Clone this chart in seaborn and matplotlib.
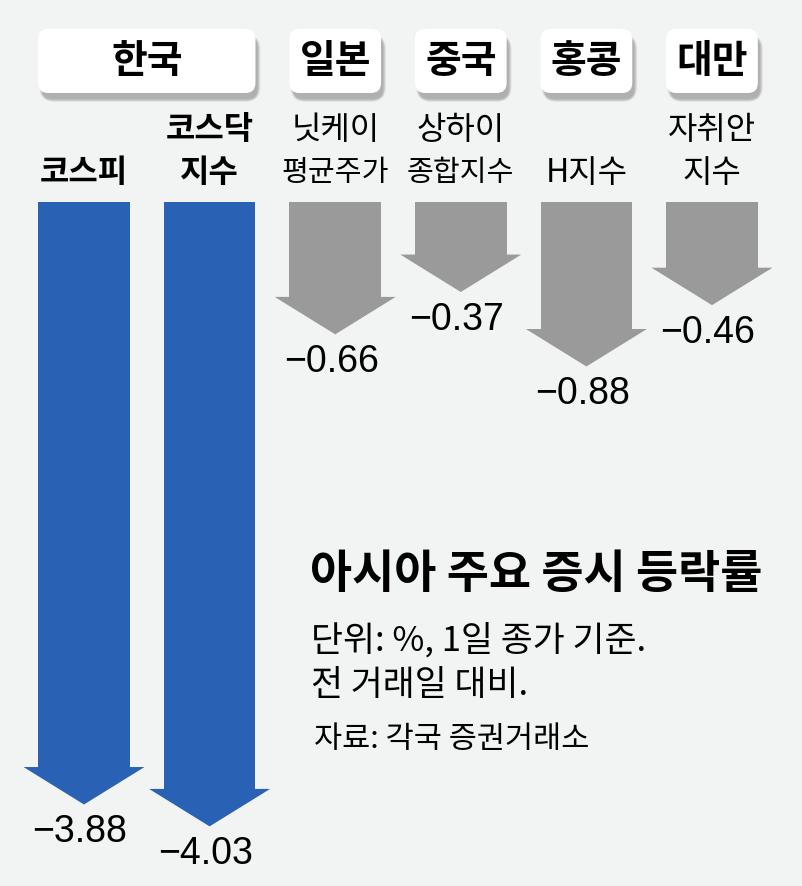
import numpy as np
import pandas as pd
import matplotlib
matplotlib.use("Agg")
import matplotlib.pyplot as plt
import seaborn as sns
from matplotlib.patches import FancyBboxPatch

# ---------------- data ----------------
countries = ["한국", "일본", "중국", "홍콩", "대만"]
country_first = [0, 2, 3, 4, 5]
country_last = [1, 2, 3, 4, 5]
index_names = ["코스피", "코스닥 지수", "닛케이 평균주가", "상하이 종합지수", "H지수", "자취안 지수"]
label_top = ["", "코스닥", "닛케이", "상하이", "", "자취안"]
label_bottom = ["코스피", "지수", "평균주가", "종합지수", "H지수", "지수"]
values = [-3.88, -4.03, -0.66, -0.37, -0.88, -0.46]
is_korea = [True, True, False, False, False, False]
title = "아시아 주요 증시 등락률"
sub1 = "단위: %, 1일 종가 기준."
sub2 = "전 거래일 대비."
source = "자료: 각국 증권거래소"

# ---------------- style ----------------
BG = "#f2f4f4"
BLUE = "#2962b4"
GRAY = "#9a9a9a"

sns.set_style("white")
plt.rcParams["font.family"] = ["Noto Sans CJK KR", "DejaVu Sans"]
plt.rcParams["text.color"] = "black"

W, H = 803, 886
fig = plt.figure(figsize=(W / 100, H / 100), dpi=100)
fig.patch.set_facecolor(BG)
ax = fig.add_axes([0, 0, 1, 1])

df = pd.DataFrame({"index": index_names, "value": values})
colors = [BLUE if k else GRAY for k in is_korea]
BAR_W = 0.73
sns.barplot(data=df, x="index", y="value", hue="index", palette=colors,
            width=BAR_W, dodge=False, legend=False, saturation=1,
            linewidth=0, ax=ax)

# scale: x unit = 125.6 px, y unit = 146 px ; zero line at pixel 202, cat 0 at pixel 84
XU, YU = 125.6, 146.0
X0PX, Y0PX = 84.0, 202.0
ax.set_xlim(-X0PX / XU, (W - X0PX) / XU)
ax.set_ylim(-(H - Y0PX) / YU, Y0PX / YU)
ax.set_axis_off()
PX = 1 / XU
PY = 1 / YU

def ydata(py):
    return (Y0PX - py) / YU

# arrow heads
HW = 0.5 * 121 * PX
HL = 36 * PY
for i, (v, k) in enumerate(zip(values, is_korea)):
    c = BLUE if k else GRAY
    ax.fill([i - HW, i + HW, i], [v + 0.01, v + 0.01, v - HL], color=c, lw=0)
    ax.text(i - 4 * PX, v - HL - 38 * PY, "\u2212" + f"{abs(v):.2f}",
            ha="center", va="baseline", fontsize=27,
            family=["Liberation Sans", "DejaVu Sans"], color="black")

# header boxes
y_box_top, y_box_bot = ydata(29), ydata(93)
for name, a, b in zip(countries, country_first, country_last):
    x0 = a - BAR_W / 2
    x1 = b + BAR_W / 2
    r = 10 * PX
    # soft shadow (offset down-right, blurred by stacking)
    for s in range(7):
        grow = s * 1.0
        sh = FancyBboxPatch((x0 + 3 * PX - grow * 0.5 * PX + 1 * PX,
                             y_box_bot - 6 * PY - grow * 0.5 * PY),
                            (x1 - x0) + grow * PX - 2 * PX,
                            (y_box_top - y_box_bot) + grow * PY - 2 * PY,
                            boxstyle=f"round,pad=0,rounding_size={r + grow * PX}",
                            mutation_aspect=XU / YU, fc="#5a5a5a", ec="none",
                            alpha=0.075, zorder=3)
        ax.add_patch(sh)
    box = FancyBboxPatch((x0, y_box_bot), x1 - x0, y_box_top - y_box_bot,
                         boxstyle=f"round,pad=0,rounding_size={r}",
                         mutation_aspect=XU / YU, fc="white", ec="none", zorder=4)
    ax.add_patch(box)
    ax.text((x0 + x1) / 2, ydata(61), name, ha="center", va="center",
            fontsize=28, fontweight="bold", color="black", zorder=5)

# index labels
for i, (t, b, k) in enumerate(zip(label_top, label_bottom, is_korea)):
    w = "bold" if k else "medium"
    if t:
        ax.text(i, ydata(130), t, ha="center", va="center", color="black",
                fontsize=23 if len(t) < 4 else 21, fontweight=w)
    ax.text(i, ydata(173), b, ha="center", va="center", color="black",
            fontsize=23 if len(b) < 4 else 21, fontweight=w)

# title block
def fx(px):
    return px / W

def fy(py):
    return 1 - py / H

ax.text(fx(310), fy(575), title, transform=ax.transAxes, ha="left", va="center",
        fontsize=33, fontweight="bold", color="black")
ax.text(fx(311), fy(641), sub1, transform=ax.transAxes, ha="left", va="center",
        fontsize=25, color="black")
ax.text(fx(311), fy(685), sub2, transform=ax.transAxes, ha="left", va="center",
        fontsize=25, color="black")
ax.text(fx(314), fy(740), source, transform=ax.transAxes, ha="left", va="center",
        fontsize=22, color="black")

fig.savefig("out.png", dpi=100, facecolor=BG)
